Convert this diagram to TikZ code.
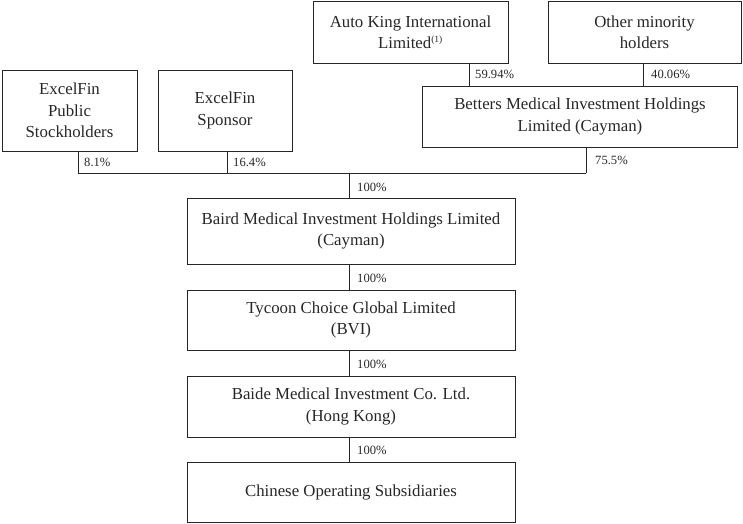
\documentclass[tikz,border=0pt]{standalone}
\usepackage{fontspec}
\setmainfont{Liberation Serif}
\begin{document}
\begin{tikzpicture}[x=1pt,y=-1pt,
  box/.style={draw=black!85,line width=0.9pt,inner sep=0pt,align=center,font=\fontsize{16.8}{21.5}\selectfont,text=black!85},
  pct/.style={anchor=west,inner sep=0pt,font=\fontsize{12.6}{14}\selectfont,text=black!85},
  conn/.style={draw=black!85,line width=0.9pt}]
\useasboundingbox (0,0) rectangle (743,523);
\node[box,minimum width=195,minimum height=62] (autoking) at (410.5,32) {Auto King International\\Limited\textsuperscript{\fontsize{9.5}{9.5}\selectfont(1)}};
\node[box,minimum width=193,minimum height=62] (other) at (644.5,32) {Other minority\\holders};
\node[box,minimum width=315,minimum height=61] (betters) at (580,116.5) {Betters Medical Investment Holdings\\Limited (Cayman)};
\node[box,minimum width=135,minimum height=81] (public) at (69.5,110.5) {ExcelFin\\Public\\Stockholders};
\node[box,minimum width=134,minimum height=81] (sponsor) at (225,110.5) {ExcelFin\\Sponsor};
\node[box,minimum width=328,minimum height=66] (baird) at (351,231) {Baird Medical Investment Holdings Limited\\(Cayman)};
\node[box,minimum width=328,minimum height=60] (tycoon) at (351,320) {Tycoon Choice Global Limited\\(BVI)};
\node[box,minimum width=328,minimum height=61] (baide) at (351,406.5) {Baide Medical Investment Co. Ltd.\\(Hong Kong)};
\node[box,minimum width=328,minimum height=60] (chinese) at (351,492) {Chinese Operating Subsidiaries};
% bus coordinates
\coordinate (bpub) at (78,173);
\coordinate (bspo) at (227,173);
\coordinate (bbet) at (586,173);
\coordinate (bmain) at (349,173);
\coordinate (xaut) at (469,0);
\coordinate (xoth) at (643,0);
% connectors
\draw[conn] (xaut |- autoking.south) -- (xaut |- betters.north);
\draw[conn] (xoth |- other.south) -- (xoth |- betters.north);
\draw[conn] (bbet |- betters.south) -- (bbet);
\draw[conn] (bpub |- public.south) -- (bpub) -- (bbet);
\draw[conn] (bspo |- sponsor.south) -- (bspo);
\draw[conn] (bmain) -- (bmain |- baird.north);
\draw[conn] (bmain |- baird.south) -- (bmain |- tycoon.north);
\draw[conn] (bmain |- tycoon.south) -- (bmain |- baide.north);
\draw[conn] (bmain |- baide.south) -- (bmain |- chinese.north);
% labels
\node[pct] (l1) at (475,74) {59.94\%};
\node[pct] (l2) at (651,74) {40.06\%};
\node[pct] (l3) at (595,160) {75.5\%};
\node[pct] (l4) at (84,162) {8.1\%};
\node[pct] (l5) at (233,162) {16.4\%};
\node[pct] (l6) at (357,187) {100\%};
\node[pct] (l7) at (357,278) {100\%};
\node[pct] (l8) at (357,364) {100\%};
\node[pct] (l9) at (357,450) {100\%};
\end{tikzpicture}
\end{document}
